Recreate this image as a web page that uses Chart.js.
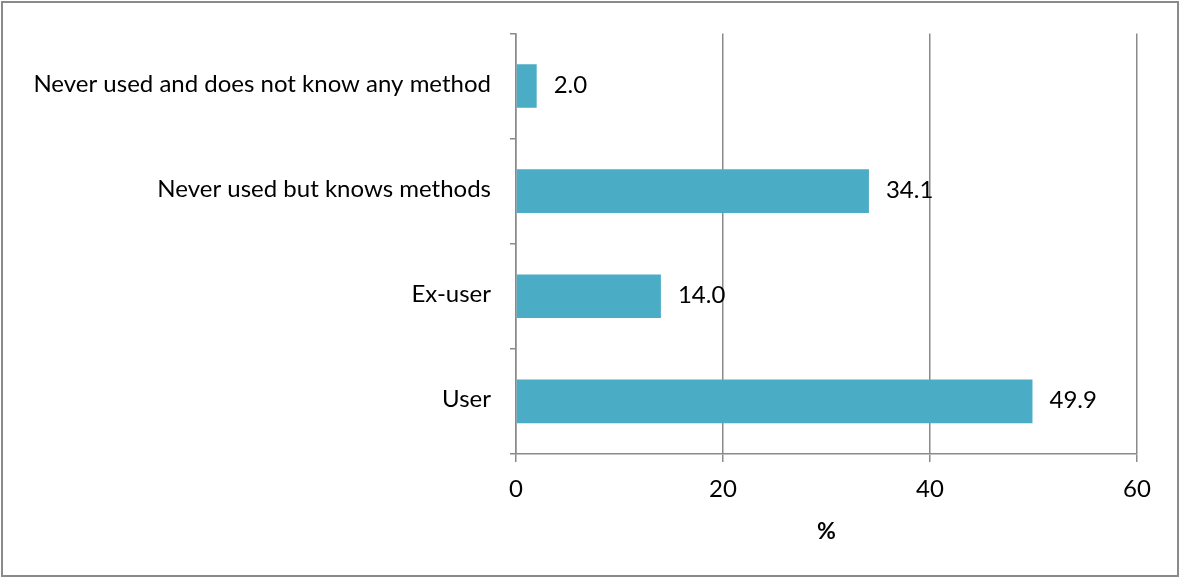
<!DOCTYPE html>
<html>
<head>
<meta charset="utf-8">
<script src="https://cdn.jsdelivr.net/npm/chart.js@4/dist/chart.umd.min.js"></script>
<style>
html,body{margin:0;padding:0;background:#fff;}
#wrap{width:1180px;height:578px;position:relative;}
</style>
</head>
<body>
<div id="wrap"><canvas id="c" width="1180" height="578"></canvas></div>
<script>
const categories = ["Never used and does not know any method", "Never used but knows methods", "Ex-user", "User"];
const values = [2.0, 34.1, 14.0, 49.9];
const xTicks = [0, 20, 40, 60];
const axisTitle = "%";

const FONT = "Lato";
const FS = 24;
const GRID = "#8a8a8a";

const borderPlugin = {
  id: 'frame',
  beforeDraw(chart) {
    const ctx = chart.ctx;
    ctx.save();
    ctx.fillStyle = '#fff';
    ctx.fillRect(0, 0, chart.width, chart.height);
    ctx.strokeStyle = GRID;
    ctx.lineWidth = 2;
    ctx.strokeRect(2, 2, 1176, 574);
    ctx.restore();
  }
};

const labelPlugin = {
  id: 'vals',
  afterDatasetsDraw(chart) {
    const ctx = chart.ctx;
    const meta = chart.getDatasetMeta(0);
    ctx.save();
    ctx.font = FS + "px " + FONT;
    ctx.fillStyle = "#000";
    ctx.textAlign = "left";
    ctx.textBaseline = "middle";
    meta.data.forEach((bar, i) => {
      ctx.fillText(values[i].toFixed(1), bar.x + 17, bar.y - 1);
    });
    ctx.restore();
  }
};

new Chart(document.getElementById('c'), {
  type: 'bar',
  data: {
    labels: categories,
    datasets: [{
      data: values,
      backgroundColor: '#4BACC6',
      borderWidth: 0,
      barPercentage: 0.415,
      categoryPercentage: 1.0
    }]
  },
  options: {
    indexAxis: 'y',
    responsive: false,
    animation: false,
    devicePixelRatio: 1,
    layout: { padding: { left: 0, right: 43, top: 31, bottom: 0 } },
    plugins: { legend: { display: false }, tooltip: { enabled: false } },
    scales: {
      x: {
        min: 0, max: 60,
        afterBuildTicks(scale) { scale.ticks = xTicks.map(v => ({ value: v })); },
        afterFit(scale) { scale.height = 124; },
        grid: { color: GRID, lineWidth: 1.5, tickLength: 8, tickColor: GRID, drawTicks: true },
        border: { display: true, color: GRID, width: 1.5 },
        ticks: { font: { family: FONT, size: FS }, color: '#000', padding: 13 },
        title: { display: true, text: axisTitle, font: { family: FONT, size: FS - 1, weight: 'bold' }, color: '#000', padding: { top: 8, bottom: 33 } }
      },
      y: {
        afterFit(scale) { scale.width = 516; },
        grid: { drawOnChartArea: false, color: GRID, lineWidth: 1.5, tickLength: 6, tickColor: GRID, offset: true },
        border: { display: true, color: GRID, width: 1.5 },
        ticks: { font: { family: FONT, size: FS }, color: '#000', padding: 19, labelOffset: -2 }
      }
    }
  },
  plugins: [borderPlugin, labelPlugin]
});
</script>
</body>
</html>
